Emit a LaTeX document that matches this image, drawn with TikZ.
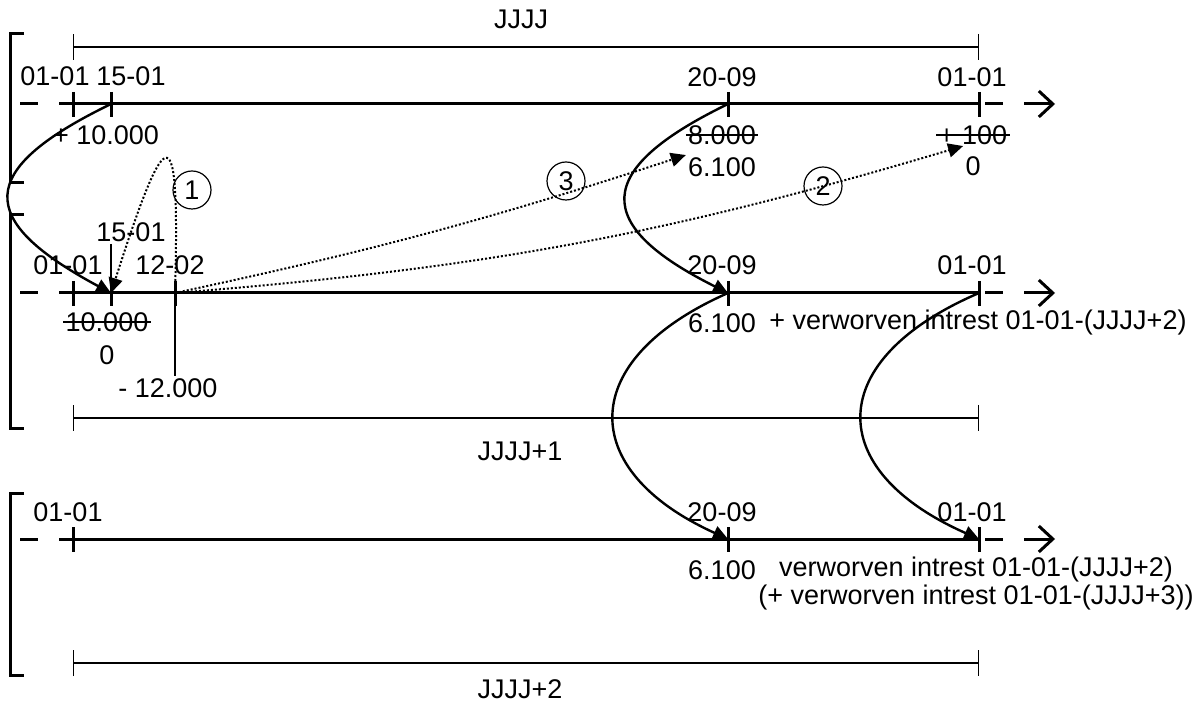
\documentclass[tikz,border=0pt]{standalone}
\usepackage{fontspec}
\setmainfont{Liberation Sans}
\usetikzlibrary{arrows.meta}

\begin{document}
\begin{tikzpicture}[x=0.5pt, y=-0.5pt,
    every node/.style={font=\fontsize{13.5}{14}\selectfont, inner sep=1pt},
    timeline/.style={line width=1.5pt},
    notch/.style={line width=1.5pt},
    yearbar/.style={line width=0.6pt, {Bar[width=13pt]}-{Bar[width=13pt]}},
    strike/.style={line width=0.9pt},
    flow/.style={line width=1.2pt, -{Triangle[length=7.5pt,width=7pt]}},
    hop/.style={line width=1pt, densely dotted, -{Triangle[length=7.5pt,width=7pt]}},
    num/.style={circle, draw, line width=0.6pt, minimum size=19pt, inner sep=0pt}]

    \useasboundingbox (0,0) rectangle (1197,704);

    % the three years
    \foreach \y in {104,293,539} {
        \draw[timeline] (20,\y) -- (38,\y);
        \draw[timeline] (59,\y) -- (979,\y);
        \draw[timeline] (985,\y) -- (1003,\y);
        \draw[timeline, -{Straight Barb[length=7pt,width=13pt]}] (1024,\y) -- (1055,\y);
    }

    \draw[timeline] (24,34) -| (10,183) -- (24,183);
    \draw[timeline] (24,215) -| (10,429) -- (24,429);
    \draw[timeline] (24,494) -| (10,675) -- (24,675);

    \draw[yearbar] (73,47) -- (979,47);
    \draw[yearbar] (73,418) -- (979,418);
    \draw[yearbar] (73,663) -- (979,663);

    \node (yr1) at (521,19) {JJJJ};
    \node (yr2) at (520,451) {JJJJ+1};
    \node (yr3) at (520,689) {JJJJ+2};

    \coordinate (t1a) at (73,104);
    \coordinate (t1b) at (111,104);
    \coordinate (t1c) at (728,104);
    \coordinate (t1d) at (979,104);
    \coordinate (t2a) at (73,293);
    \coordinate (t2b) at (111,293);
    \coordinate (t2e) at (175,293);
    \coordinate (t2c) at (728,293);
    \coordinate (t2d) at (979,293);
    \coordinate (t3a) at (73,539);
    \coordinate (t3c) at (728,539);
    \coordinate (t3d) at (979,539);

    \foreach \t in {t1a,t1b,t1c,t1d,t2a,t2b,t2e,t2c,t2d,t3a,t3c,t3d}
        \draw[notch] ([yshift=6pt]\t) -- ([yshift=-6.5pt]\t);

    % year JJJJ
    \node (d1a) at (55,76) {01-01};
    \node (d1b) at (131,76) {15-01};
    \node (d1c) at (722,77) {20-09};
    \node (d1d) at (972,77) {01-01};
    \node (v1b) at (106,135) {+ 10.000};
    \node (v1c) at (722,135) {8.000};
    \node (w1c) at (722,167) {6.100};
    \node (v1d) at (973,135) {+ 100};
    \node (w1d) at (973,166) {0};
    \draw[strike] (v1c.west) -- (v1c.east);
    \draw[strike] (v1d.west) -- (v1d.east);

    % year JJJJ+1
    \node (d2a) at (68,265) {01-01};
    \node (d2b) at (131,232) {15-01};
    \node (d2e) at (170,265) {12-02};
    \node (d2c) at (722,265) {20-09};
    \node (d2d) at (972,265) {01-01};
    \node (v2b) at (107,322) {10.000};
    \node (w2b) at (107,355) {0};
    \node (v2e) at (168,388) {- 12.000};
    \node (v2c) at (722,323) {6.100};
    \node[anchor=west] (v2d) at (767,323) {+ verworven intrest 01-01-(JJJJ+2)};
    \draw[strike] (v2b.west) -- (v2b.east);
    \draw[yearbar, -] (d2b.south -| t2b) -- (t2b);
    \draw[yearbar, -] (t2e) -- (v2e.north -| t2e);

    % year JJJJ+2
    \node (d3a) at (68,512) {01-01};
    \node (d3c) at (722,512) {20-09};
    \node (d3d) at (972,512) {01-01};
    \node (v3c) at (722,570) {6.100};
    \node[align=center] (v3d) at (976,584) {verworven intrest 01-01-(JJJJ+2)\\(+ verworven intrest 01-01-(JJJJ+3))};

    % transfers
    \draw[flow] (t1b) .. controls (-25,170) and (-25,220) .. (t2b);
    \draw[flow] (t1c) .. controls (592,170) and (592,225) .. (t2c);
    \draw[flow] (t2c) .. controls (576,360) and (576,470) .. (t3c);
    \draw[flow] (t2d) .. controls (823,360) and (823,470) .. (t3d);

    \draw[hop] (t2e) .. controls (180,115) and (168,115) .. (t2b);
    \draw[hop] (t2e) to[bend right=3] (w1c.north west);
    \draw[hop] (t2e) to[bend right=6] ([yshift=4pt]w1d.north west);

    \node[num] (c1) at (192,190) {1};
    \node[num] (c3) at (566,181) {3};
    \node[num] (c2) at (823,186) {2};

\end{tikzpicture}
\end{document}
